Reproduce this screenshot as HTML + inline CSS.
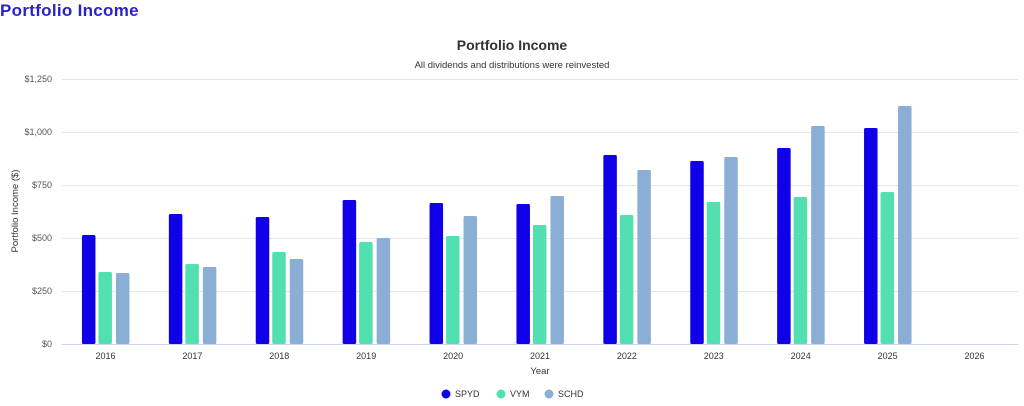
<!DOCTYPE html>
<html><head><meta charset="utf-8"><style>
body{margin:0;background:#fff;width:1024px;height:401px;overflow:hidden;font-family:"Liberation Sans",sans-serif}
</style></head><body>
<svg width="1024" height="401" xmlns="http://www.w3.org/2000/svg" font-family="Liberation Sans, sans-serif">
<text x="0" y="16" font-size="17" fill="#2a22c8" font-weight="bold" letter-spacing="0.3">Portfolio Income</text>
<text x="512" y="50" font-size="14" font-weight="bold" fill="#333" text-anchor="middle">Portfolio Income</text>
<text x="512" y="68" font-size="9.5" fill="#333" text-anchor="middle">All dividends and distributions were reinvested</text>
<g stroke="#e6e6e6" stroke-width="1">
<line x1="62" x2="1018" y1="79.5" y2="79.5"/><line x1="62" x2="1018" y1="132.5" y2="132.5"/>
<line x1="62" x2="1018" y1="185.5" y2="185.5"/><line x1="62" x2="1018" y1="238.5" y2="238.5"/>
<line x1="62" x2="1018" y1="291.5" y2="291.5"/>
</g>
<line x1="62" x2="1018" y1="344.5" y2="344.5" stroke="#ccd6eb"/>
<g font-size="9" fill="#555" text-anchor="end">
<text x="52" y="82">$1,250</text><text x="52" y="135">$1,000</text><text x="52" y="188">$750</text>
<text x="52" y="241">$500</text><text x="52" y="294">$250</text><text x="52" y="347">$0</text>
</g>
<text transform="translate(18,211) rotate(-90)" font-size="9.5" fill="#333" text-anchor="middle">Portfolio Income ($)</text>
<g font-size="9" fill="#333" text-anchor="middle">
<text x="105.5" y="359">2016</text><text x="192.4" y="359">2017</text><text x="279.3" y="359">2018</text>
<text x="366.2" y="359">2019</text><text x="453.1" y="359">2020</text><text x="540" y="359">2021</text>
<text x="626.9" y="359">2022</text><text x="713.8" y="359">2023</text><text x="800.7" y="359">2024</text>
<text x="887.6" y="359">2025</text><text x="974.5" y="359">2026</text>
</g>
<text x="540" y="374" font-size="9.5" fill="#333" text-anchor="middle">Year</text>
<g id="bars"></g>
<g font-size="9" fill="#333">
<circle cx="446" cy="394" r="4.5" fill="#0f00e8"/><text x="455" y="397">SPYD</text>
<circle cx="501" cy="394" r="4.5" fill="#52e0b0"/><text x="510" y="397">VYM</text>
<circle cx="549" cy="394" r="4.5" fill="#8aaed4"/><text x="558" y="397">SCHD</text>
</g>
</svg>
<script>
var tops=[[235,272,273],[214,264,267],[217,252,259],[200,242,238],[203,236,216],[204,225,196],[155,215,170],[161,202,157],[148,197,126],[128,192,106]];
var cols=["#0f00e8","#52e0b0","#8aaed4"],off=[-23.5,-7,10.5],s="";
for(var i=0;i<tops.length;i++){var c=62+86.9*(i+0.5);for(var j=0;j<3;j++){var t=tops[i][j];
s+='<rect x="'+(c+off[j])+'" y="'+t+'" width="13.5" height="'+(344-t)+'" rx="1.5" fill="'+cols[j]+'"/>';}}
document.getElementById("bars").innerHTML=s;
</script>
</body></html>
